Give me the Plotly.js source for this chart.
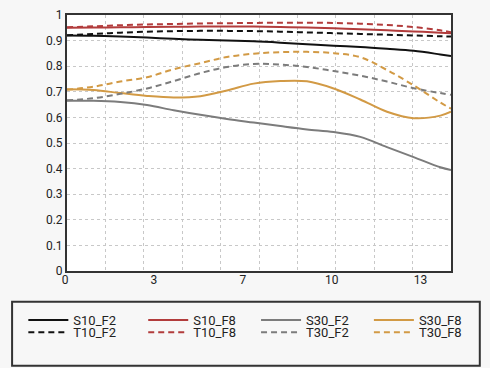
<!DOCTYPE html>
<html><head><meta charset="utf-8">
<script src="https://cdn.plot.ly/plotly-3.0.1.min.js"></script>
<style>html,body{margin:0;padding:0;background:#f7f7f7;}#chart{width:490px;height:368px;}</style>
</head><body><div id="chart"></div>
<script>
const xs = [0,1,2,3,4,5,6,7,8,9,10,11,12,13,14,14.4];
const S10_F2 = [0.920,0.919,0.916,0.912,0.907,0.903,0.900,0.897,0.892,0.886,0.880,0.875,0.868,0.860,0.846,0.840];
const T10_F2 = [0.921,0.926,0.931,0.935,0.937,0.938,0.938,0.937,0.935,0.932,0.929,0.926,0.923,0.920,0.917,0.916];
const S10_F8 = [0.950,0.951,0.952,0.953,0.954,0.955,0.955,0.955,0.953,0.951,0.948,0.944,0.940,0.936,0.931,0.929];
const T10_F8 = [0.952,0.956,0.960,0.963,0.965,0.967,0.968,0.969,0.970,0.970,0.969,0.966,0.961,0.953,0.940,0.933];
const S30_F2 = [0.665,0.665,0.660,0.648,0.628,0.610,0.594,0.580,0.566,0.553,0.543,0.524,0.484,0.445,0.405,0.394];
const T30_F2 = [0.667,0.675,0.692,0.713,0.742,0.773,0.797,0.809,0.806,0.797,0.781,0.763,0.740,0.714,0.695,0.688];
const S30_F8 = [0.710,0.707,0.695,0.684,0.678,0.683,0.705,0.732,0.742,0.741,0.713,0.670,0.622,0.597,0.607,0.622];
const T30_F8 = [0.708,0.720,0.740,0.757,0.788,0.812,0.836,0.849,0.855,0.856,0.851,0.835,0.785,0.725,0.658,0.634];
const xTickVals = [0,10/3,20/3,10,40/3];
const xTickText = ['0','3','7','10','13'];

const BLACK='#111111', RED='#b23c3c', GRAY='#7c7c7c', GOLD='#d29a45';
function tr(name,y,color,dash,leg){
  return {x:xs,y:y,name:name,type:'scatter',mode:'lines',
    line:{color:color,width:2,dash:dash?'6px,4px':'solid',shape:'spline',smoothing:1},
    legend:leg,hoverinfo:'skip'};
}
const data = [
  tr('S10_F2',S10_F2,BLACK,false,'legend'),
  tr('S10_F8',S10_F8,RED,false,'legend2'),
  tr('S30_F2',S30_F2,GRAY,false,'legend3'),
  tr('S30_F8',S30_F8,GOLD,false,'legend4'),
  tr('T10_F2',T10_F2,BLACK,true,'legend5'),
  tr('T10_F8',T10_F8,RED,true,'legend6'),
  tr('T30_F2',T30_F2,GRAY,true,'legend7'),
  tr('T30_F8',T30_F8,GOLD,true,'legend8'),
  {x:[0,14.4],y:[0,0],xaxis:'x2',yaxis:'y',mode:'lines',line:{width:0},showlegend:false,hoverinfo:'skip'}
];
const legFont = {family:'Roboto, "Noto Sans", sans-serif',size:13,color:'#222'};
const colX = [-0.1137,0.1985,0.4923,0.7862];
const rowY = [-0.133,-0.181];
function leg(c,r){
  return {orientation:'v',x:colX[c],xanchor:'left',y:rowY[r],yanchor:'top',bgcolor:'rgba(0,0,0,0)',
    font:legFont,itemwidth:40,borderwidth:0};
}
const layout = {
  width:490,height:368,
  margin:{l:67,r:39,t:15,b:97,autoexpand:false},
  paper_bgcolor:'#f7f7f7',plot_bgcolor:'#ffffff',
  font:{family:'Roboto, "Noto Sans", sans-serif',size:12,color:'#222'},
  showlegend:true,
  xaxis:{range:[0,14.4],tick0:0,dtick:1.44,showgrid:true,gridcolor:'#c8c8c8',griddash:'dot',gridwidth:1,
    showticklabels:false,ticks:'',zeroline:false,showline:true,mirror:true,linecolor:'#333',linewidth:2,fixedrange:true},
  xaxis2:{overlaying:'x',anchor:'y',side:'bottom',range:[0,14.4],tickvals:xTickVals,ticktext:xTickText,
    showgrid:false,zeroline:false,showline:false,ticks:'',ticklabelshift:-2,tickfont:{size:12,color:'#222'}},
  yaxis:{range:[0,1],dtick:0.1,showgrid:true,gridcolor:'#c8c8c8',griddash:'dot',gridwidth:1,
    zeroline:false,showline:true,mirror:true,linecolor:'#333',linewidth:2,ticks:'',tickfont:{size:12,color:'#222'}},
  legend:leg(0,0), legend2:leg(1,0), legend3:leg(2,0), legend4:leg(3,0),
  legend5:leg(0,1), legend6:leg(1,1), legend7:leg(2,1), legend8:leg(3,1),
  shapes:[{type:'rect',xref:'paper',yref:'paper',x0:-0.143,x1:1.075,y0:-0.37,y1:-0.12,
    line:{color:'#333',width:2},fillcolor:'rgba(0,0,0,0)'}]
};
Plotly.newPlot('chart',data,layout,{displayModeBar:false,staticPlot:true});
</script></body></html>
